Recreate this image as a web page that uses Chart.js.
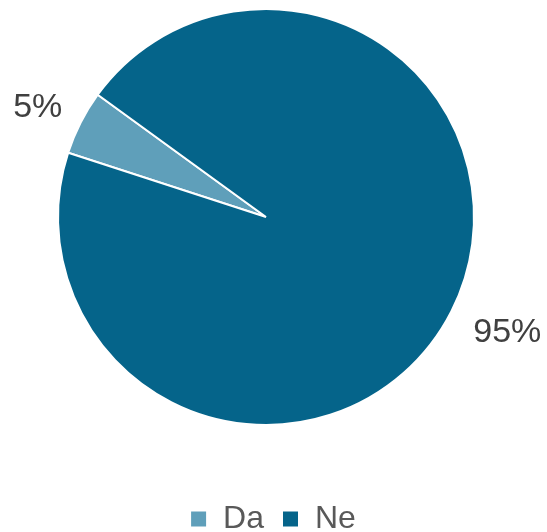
<!DOCTYPE html>
<html>
<head>
<meta charset="utf-8">
<script src="https://cdn.jsdelivr.net/npm/chart.js@4.4.1/dist/chart.umd.min.js"></script>
<style>
  html, body { margin: 0; padding: 0; background: #fff; }
  #wrap { width: 547px; height: 532px; }
</style>
</head>
<body>
<div id="wrap"><canvas id="chart" width="547" height="532"></canvas></div>
<script>
// Podaci
const labels = ['Da', 'Ne'];
const values = [5, 95];
const colors = ['#5f9fba', '#05648a'];

const FONT = '"Liberation Sans", Arial, sans-serif';

// Postotci izvan kruga
const outsideLabels = {
  id: 'outsideLabels',
  afterDatasetsDraw(chart) {
    const { ctx } = chart;
    const meta = chart.getDatasetMeta(0);
    const total = values.reduce((a, b) => a + b, 0);
    ctx.save();
    ctx.font = '34px ' + FONT;
    ctx.fillStyle = '#404040';
    ctx.textAlign = 'center';
    ctx.textBaseline = 'middle';
    meta.data.forEach((arc, i) => {
      const { x, y, startAngle, endAngle, outerRadius } = arc.getProps(['x','y','startAngle','endAngle','outerRadius'], true);
      const mid = (startAngle + endAngle) / 2 - 1.3 * Math.PI / 180;
      const txt = Math.round(values[i] / total * 100) + '%';
      const hw = ctx.measureText(txt).width / 2, hh = 13;
      const c = Math.cos(mid), s = Math.sin(mid);
      const d = outerRadius + 2 + 1.7 * hw * Math.abs(c) + hh * Math.abs(s);
      ctx.fillText(txt, x + c * d, y + s * d);
    });
    ctx.restore();
  }
};

// legenda centrirana na cijelo platno, ne na krug
const legendShift = {
  id: 'legendShift',
  afterLayout(chart) {
    if (!chart.legend) return;
    chart.legend.left += 7;
    chart.legend.right += 7;
  }
};

new Chart(document.getElementById('chart'), {
  type: 'pie',
  data: {
    labels,
    datasets: [{
      data: values,
      backgroundColor: colors,
      borderColor: '#ffffff',
      borderWidth: 2
    }]
  },
  options: {
    responsive: false,
    animation: false,
    rotation: -72,
    layout: { padding: { top: 8, left: 0, right: 15, bottom: -13 } },
    plugins: {
      tooltip: { enabled: false },
      legend: {
        position: 'bottom',
        // prazan naslov samo da legenda ode niže
        title: { display: true, text: ' ', font: { size: 10 }, padding: { top: 47, bottom: 0 } },
        labels: {
          font: { size: 32, family: FONT },
          color: '#595959',
          boxWidth: 17,
          boxHeight: 17,
          padding: 18
        }
      }
    }
  },
  plugins: [outsideLabels, legendShift]
});
</script>
</body>
</html>
